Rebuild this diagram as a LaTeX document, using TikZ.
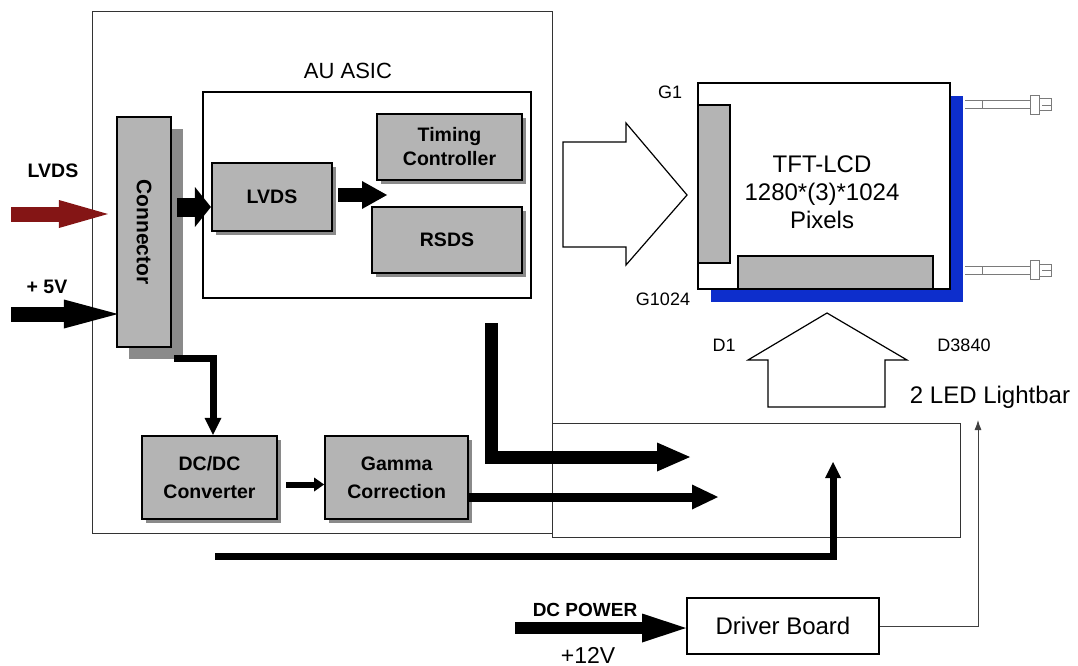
\documentclass[tikz,border=0pt]{standalone}
\usepackage{fontspec}
\setmainfont{Liberation Sans}
\usepackage{tikz}
\usetikzlibrary{arrows.meta,positioning,shadows}
\definecolor{boxgray}{HTML}{B4B4B4}
\definecolor{shadegray}{HTML}{8A8A8A}
\definecolor{lvdsred}{HTML}{841515}
\definecolor{lcdblue}{HTML}{0D2ECC}
\definecolor{wiregray}{HTML}{7A7A7A}
\newcommand{\blockfont}{\fontsize{19.5}{24}\selectfont\bfseries}
\newcommand{\labelfont}{\fontsize{18}{20}\selectfont}

\begin{document}
\begin{tikzpicture}[x=1pt,y=-1pt,
  block/.style={draw=black,line width=2.2pt,fill=boxgray,inner sep=0pt,align=center,font=\blockfont},
  boxshadow/.style={general shadow={fill=shadegray,shadow xshift=#1,shadow yshift=-#1}},
  board/.style={draw=black!80,line width=1pt,inner sep=0pt}]
  \useasboundingbox (0,0) rectangle (1078,666);
  % boards
  \node[board,minimum width=460pt,minimum height=521pt] (mainboard) at (322,272.5) {};
  \node[board,minimum width=408pt,minimum height=114pt] (lowerboard) at (756,480) {};
  \node[board,draw=black,line width=2pt,minimum width=328pt,minimum height=206pt] (asic) at (367,195) {};
  \node[font=\fontsize{22}{24}\selectfont] (asiclabel) at (348,71) {AU ASIC};
  % blocks
  \node[block,boxshadow=12pt,minimum width=54pt,minimum height=230pt] (conn) at (144,232) {};
  \node[font=\fontsize{21}{24}\selectfont\bfseries,rotate=-90] (connlabel) at (conn) {Connector};
  \node[block,boxshadow=4pt,minimum width=120pt,minimum height=68pt] (lvds) at (272,197) {LVDS};
  \node[block,boxshadow=4pt,minimum width=145pt,minimum height=66pt] (timing) at (449.5,147) {Timing\\Controller};
  \node[block,boxshadow=4pt,minimum width=150pt,minimum height=66pt] (rsds) at (447,240) {RSDS};
  \node[block,boxshadow=4pt,minimum width=135pt,minimum height=83pt,font=\fontsize{19.5}{28}\selectfont\bfseries] (dcdc) at (209.5,477.5) {DC/DC\\Converter};
  \node[block,boxshadow=4pt,minimum width=143pt,minimum height=83pt,font=\fontsize{19.5}{28}\selectfont\bfseries,right=46pt of dcdc] (gamma) {Gamma\\Correction};
  % panel
  \node[draw=black,line width=2.5pt,fill=white,inner sep=0pt,minimum width=252pt,minimum height=206pt,
    general shadow={fill=lcdblue,shadow xshift=13pt,shadow yshift=-13pt}] (lcd) at (824,186) {};
  \node[draw=black,line width=2pt,fill=boxgray,inner sep=0pt,minimum width=32pt,minimum height=158pt] (gatestrip) at (714,184) {};
  \node[draw=black,line width=2pt,fill=boxgray,inner sep=0pt,minimum width=195pt,minimum height=33pt] (srcstrip) at (835.5,272.5) {};
  \node[font=\fontsize{24}{28}\selectfont,align=center] (lcdlabel) at (822,192) {TFT-LCD\\1280*(3)*1024\\Pixels};
  \node[font=\labelfont] (gfirst) at (670,92) {G1};
  \node[font=\labelfont] (glast) at (663,299) {G1024};
  \node[font=\labelfont] (dfirst) at (724,345) {D1};
  \node[font=\labelfont] (dlast) at (964,345) {D3840};
  \node[font=\fontsize{24}{26}\selectfont] (lightbar) at (990,397) {2 LED Lightbar};
  % lamp wires
  \foreach \wy in {105,270} {
    \draw[wiregray,line width=1pt] (965,\wy-4) -- (1030,\wy-4) (965,\wy+4) -- (1030,\wy+4);
    \draw[wiregray,line width=1pt] (982,\wy-4) -- (982,\wy+4);
    \draw[wiregray,line width=1pt,fill=white] (1030,\wy-9.5) rectangle (1039,\wy+9.5);
    \draw[wiregray,line width=1pt,fill=white] (1039,\wy-6) rectangle (1051,\wy+6);
    \draw[wiregray,line width=0.8pt] (1042,\wy) -- (1051,\wy);
  }
  % hollow arrows
  \draw[line width=1.2pt] (563,142) -- (626,142) -- (626,123) -- (687,195) -- (626,265) -- (626,247) -- (563,247) -- cycle;
  \draw[line width=1.2pt] (768,407) -- (768,360) -- (748,360) -- (827,313) -- (907,360) -- (885,360) -- (885,407) -- cycle;
  % driver
  \node[draw=black,line width=2pt,inner sep=0pt,minimum width=192pt,minimum height=56pt,font=\fontsize{24}{26}\selectfont] (driver) at (783,626) {Driver Board};
  \node[font=\fontsize{19}{21}\selectfont\bfseries] (dclabel) at (585,610) {DC POWER};
  \node[font=\fontsize{23}{25}\selectfont] (vlabel) at (588,655) {+12V};
  \node[font=\fontsize{19.5}{22}\selectfont\bfseries] (lvdslabel) at (53,171) {LVDS};
  \node[font=\fontsize{19.5}{22}\selectfont\bfseries] (fivelabel) at (47,287) {+ 5V};
  % inputs
  \coordinate (redtail) at (11,214);
  \coordinate (fivetail) at (11,314);
  \draw[lvdsred,line width=15pt,-{Triangle[length=49pt,width=28pt,line width=0pt]},shorten >=8pt] (redtail) -- (redtail -| conn.west);
  \draw[line width=15pt,-{Triangle[length=54pt,width=29pt,line width=0pt]},shorten >=-2pt] (fivetail) -- (fivetail -| conn.west);
  % inside the board
  \coordinate (lvdsport) at ([yshift=-10pt]lvds.west);
  \coordinate (connport) at ([xshift=5pt]conn.east);
  \coordinate (splitpt) at (387,195);
  \draw[line width=19pt,-{Triangle[length=16pt,width=40pt,line width=0pt]}] (connport |- lvdsport) -- (lvdsport);
  \draw[line width=14pt,-{Triangle[length=25pt,width=28pt,line width=0pt]},shorten <=5pt] (lvds.east |- splitpt) -- (splitpt);
  \draw[line width=7pt,-{Triangle[length=17pt,width=17pt,line width=0pt]}] ([xshift=2pt,yshift=-10pt]conn.south east) -| ([xshift=3.5pt]dcdc.north);
  \draw[line width=6pt,-{Triangle[length=10pt,width=14pt,line width=0pt]},shorten <=8pt] ([yshift=-7pt]dcdc.east) -- ([yshift=-7pt]gamma.west);
  % outputs
  \coordinate (asicout) at (491,323);
  \coordinate (gateend) at (690,457);
  \coordinate (gammaend) at (718,497);
  \coordinate (powtail) at (215,556);
  \coordinate (powend) at (833,462);
  \draw[line width=13pt,-{Triangle[length=33pt,width=29pt,line width=0pt]}] (asicout) |- (gateend);
  \draw[line width=9pt,-{Triangle[length=26pt,width=25pt,line width=0pt]}] (gamma.east |- gammaend) -- (gammaend);
  \draw[line width=7pt,-{Triangle[length=16pt,width=16pt,line width=0pt]}] (powtail) -| (powend);
  % backlight supply
  \coordinate (dctail) at (515,628);
  \coordinate (barend) at (978,420);
  \draw[line width=12pt,-{Triangle[length=44pt,width=29pt,line width=0pt]}] (dctail) -- (dctail -| driver.west);
  \draw[black!75,line width=0.9pt,-{Latex[length=10pt,width=7pt]}] (driver.east) -| (barend);
\end{tikzpicture}
\end{document}
